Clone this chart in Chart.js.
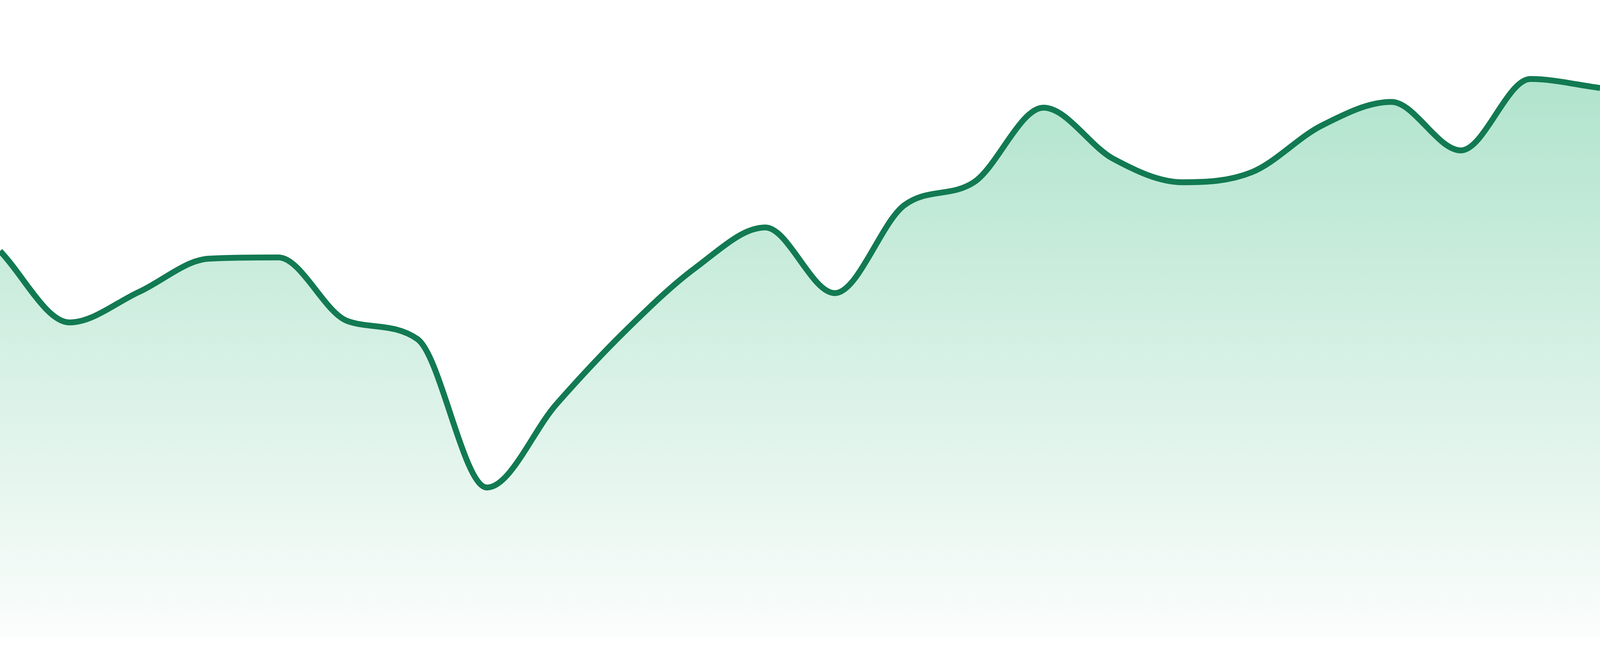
<!DOCTYPE html>
<html>
<head>
<meta charset="utf-8">
<title>Área</title>
<script src="https://cdn.jsdelivr.net/npm/chart.js@4.4.1/dist/chart.umd.min.js"></script>
<style>
    html, body { margin: 0; padding: 0; background: #ffffff; width: 100%; height: 100%; overflow: hidden; }
    .wrap { position: relative; width: 100vw; height: 100vh; }
</style>
</head>
<body>
<div class="wrap">
    <canvas id="areaChart"></canvas>
</div>
<script>
// Dados do gráfico
const labels = ['1', '2', '3', '4', '5', '6', '7', '8', '9', '10', '11', '12',
                '13', '14', '15', '16', '17', '18', '19', '20', '21', '22', '23', '24'];
const values = [60.6, 49.4, 54.2, 59.4, 59.6, 49.6, 46.8, 23.5, 36.6, 48.2, 58.0, 64.3,
                54.0, 67.8, 71.4, 83.1, 75.1, 71.4, 73.0, 80.3, 84.0, 76.4, 87.6, 86.2];
const yMin = 0;
const yMax = 100;

const lineColor = '#127a52';

// Gradiente vertical do preenchimento
function fillGradient(context) {
    const chart = context.chart;
    const area = chart.chartArea;
    if (!area) return null;
    const g = chart.ctx.createLinearGradient(0, area.top, 0, area.bottom);
    g.addColorStop(0, '#a6e0c6');
    g.addColorStop(1, '#fbfdfc');
    return g;
}

document.addEventListener('DOMContentLoaded', () => {
    const ctx = document.getElementById('areaChart').getContext('2d');
    new Chart(ctx, {
        type: 'line',
        data: {
            labels: labels,
            datasets: [{
                data: values,
                borderColor: lineColor,
                borderWidth: 15,
                backgroundColor: fillGradient,
                fill: 'start',
                pointRadius: 0,
                cubicInterpolationMode: 'monotone'
            }]
        },
        options: {
            responsive: true,
            maintainAspectRatio: false,
            animation: false,
            devicePixelRatio: 1,
            layout: { padding: { top: 0, left: 0, right: 0, bottom: 48 } },
            plugins: {
                legend: { display: false },
                tooltip: { enabled: false }
            },
            scales: {
                x: { display: false, offset: false },
                y: { display: false, min: yMin, max: yMax }
            }
        }
    });
});
</script>
</body>
</html>
